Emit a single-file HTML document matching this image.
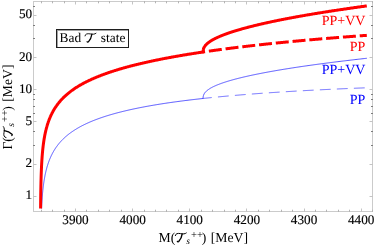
<!DOCTYPE html>
<html><head><meta charset="utf-8"><style>
html,body{margin:0;padding:0;background:#fff;}
body{width:374px;height:245px;overflow:hidden;}
svg{display:block;will-change:transform;text-rendering:geometricPrecision;font-family:"Liberation Serif",serif;}
</style></head><body>
<svg width="374" height="245" viewBox="0 0 374 245">
<rect width="374" height="245" fill="#fff"/>
<defs><clipPath id="c"><rect x="33.4" y="4.0" width="339.0" height="204.4"/></clipPath></defs>
<g clip-path="url(#c)" fill="none" stroke-linejoin="round">
<path d="M203.09,98.47 L203.64,98.41 L204.19,98.35 L204.74,98.29 L205.28,98.23 L205.83,98.17 L206.38,98.12 L206.93,98.06 L207.47,98.00 L208.02,97.94 L208.57,97.89 L209.12,97.83 L209.66,97.77 L210.21,97.72 L210.76,97.66 L211.31,97.60 L211.85,97.55 L212.40,97.49 L212.95,97.44 L213.50,97.38 L214.04,97.33 L214.59,97.27 L215.14,97.22 L215.69,97.16 L216.23,97.11 L216.78,97.06 L217.33,97.00 L217.88,96.95 L218.42,96.90 L218.97,96.85 L219.52,96.79 L220.07,96.74 L220.61,96.69 L221.16,96.64 L221.71,96.58 L222.26,96.53 L222.80,96.48 L223.35,96.43 L223.90,96.38 L224.45,96.33 L224.99,96.28 L225.54,96.23 L226.09,96.18 L226.64,96.13 L227.18,96.08 L227.73,96.03 L228.28,95.98 L228.83,95.93 L229.37,95.88 L229.92,95.83 L230.47,95.79 L231.02,95.74 L231.56,95.69 L232.11,95.64 L232.66,95.59 L233.21,95.55 L233.75,95.50 L234.30,95.45 L234.85,95.40 L235.40,95.36 L235.94,95.31 L236.49,95.26 L237.04,95.22 L237.59,95.17 L238.13,95.13 L238.68,95.08 L239.23,95.03 L239.78,94.99 L240.32,94.94 L240.87,94.90 L241.42,94.85 L241.97,94.81 L242.51,94.76 L243.06,94.72 L243.61,94.68 L244.16,94.63 L244.70,94.59 L245.25,94.54 L245.80,94.50 L246.35,94.46 L246.89,94.41 L247.44,94.37 L247.99,94.33 L248.54,94.29 L249.08,94.24 L249.63,94.20 L250.18,94.16 L250.73,94.12 L251.27,94.07 L251.82,94.03 L252.37,93.99 L252.92,93.95 L253.46,93.91 L254.01,93.87 L254.56,93.83 L255.11,93.78 L255.65,93.74 L256.20,93.70 L256.75,93.66 L257.30,93.62 L257.84,93.58 L258.39,93.54 L258.94,93.50 L259.49,93.46 L260.03,93.42 L260.58,93.38 L261.13,93.34 L261.68,93.30 L262.23,93.27 L262.77,93.23 L263.32,93.19 L263.87,93.15 L264.42,93.11 L264.96,93.07 L265.51,93.03 L266.06,93.00 L266.61,92.96 L267.15,92.92 L267.70,92.88 L268.25,92.85 L268.80,92.81 L269.34,92.77 L269.89,92.73 L270.44,92.70 L270.99,92.66 L271.53,92.62 L272.08,92.59 L272.63,92.55 L273.18,92.51 L273.72,92.48 L274.27,92.44 L274.82,92.41 L275.37,92.37 L275.91,92.33 L276.46,92.30 L277.01,92.26 L277.56,92.23 L278.10,92.19 L278.65,92.16 L279.20,92.12 L279.75,92.09 L280.29,92.05 L280.84,92.02 L281.39,91.98 L281.94,91.95 L282.48,91.91 L283.03,91.88 L283.58,91.85 L284.13,91.81 L284.67,91.78 L285.22,91.74 L285.77,91.71 L286.32,91.68 L286.86,91.64 L287.41,91.61 L287.96,91.58 L288.51,91.54 L289.05,91.51 L289.60,91.48 L290.15,91.45 L290.70,91.41 L291.24,91.38 L291.79,91.35 L292.34,91.32 L292.89,91.28 L293.43,91.25 L293.98,91.22 L294.53,91.19 L295.08,91.16 L295.62,91.12 L296.17,91.09 L296.72,91.06 L297.27,91.03 L297.81,91.00 L298.36,90.97 L298.91,90.94 L299.46,90.91 L300.00,90.88 L300.55,90.84 L301.10,90.81 L301.65,90.78 L302.19,90.75 L302.74,90.72 L303.29,90.69 L303.84,90.66 L304.38,90.63 L304.93,90.60 L305.48,90.57 L306.03,90.54 L306.57,90.51 L307.12,90.48 L307.67,90.45 L308.22,90.43 L308.76,90.40 L309.31,90.37 L309.86,90.34 L310.41,90.31 L310.95,90.28 L311.50,90.25 L312.05,90.22 L312.60,90.19 L313.14,90.17 L313.69,90.14 L314.24,90.11 L314.79,90.08 L315.33,90.05 L315.88,90.02 L316.43,90.00 L316.98,89.97 L317.52,89.94 L318.07,89.91 L318.62,89.89 L319.17,89.86 L319.71,89.83 L320.26,89.80 L320.81,89.78 L321.36,89.75 L321.90,89.72 L322.45,89.70 L323.00,89.67 L323.55,89.64 L324.09,89.62 L324.64,89.59 L325.19,89.56 L325.74,89.54 L326.28,89.51 L326.83,89.48 L327.38,89.46 L327.93,89.43 L328.47,89.41 L329.02,89.38 L329.57,89.35 L330.12,89.33 L330.66,89.30 L331.21,89.28 L331.76,89.25 L332.31,89.23 L332.85,89.20 L333.40,89.17 L333.95,89.15 L334.50,89.12 L335.04,89.10 L335.59,89.07 L336.14,89.05 L336.69,89.02 L337.23,89.00 L337.78,88.98 L338.33,88.95 L338.88,88.93 L339.42,88.90 L339.97,88.88 L340.52,88.85 L341.07,88.83 L341.61,88.81 L342.16,88.78 L342.71,88.76 L343.26,88.73 L343.80,88.71 L344.35,88.69 L344.90,88.66 L345.45,88.64 L345.99,88.62 L346.54,88.59 L347.09,88.57 L347.64,88.55 L348.18,88.52 L348.73,88.50 L349.28,88.48 L349.83,88.45 L350.37,88.43 L350.92,88.41 L351.47,88.38 L352.02,88.36 L352.56,88.34 L353.11,88.32 L353.66,88.29 L354.21,88.27 L354.75,88.25 L355.30,88.23 L355.85,88.20 L356.40,88.18 L356.94,88.16 L357.49,88.14 L358.04,88.12 L358.59,88.09 L359.13,88.07 L359.68,88.05 L360.23,88.03 L360.78,88.01 L361.32,87.99 L361.87,87.97 L362.42,87.94 L362.97,87.92 L363.51,87.90 L364.06,87.88 L364.61,87.86 L365.16,87.84 L365.70,87.82 L366.25,87.80 L366.80,87.77" stroke="#1414ff" stroke-width="0.62" stroke-dasharray="10.8 6.23" stroke-dashoffset="2.1"/>
<path d="M40.42,395.22 L40.42,395.22 L40.42,395.22 L40.42,395.22 L40.42,395.22 L40.42,395.22 L40.42,395.22 L40.42,395.22 L40.42,387.59 L40.42,379.59 L40.42,372.22 L40.42,365.43 L40.42,359.15 L40.42,353.33 L40.42,347.91 L40.42,342.84 L40.42,338.09 L40.42,333.62 L40.42,329.40 L40.43,325.41 L40.43,321.62 L40.43,318.02 L40.43,314.59 L40.43,311.31 L40.43,308.17 L40.44,305.16 L40.44,302.27 L40.44,299.49 L40.44,296.82 L40.45,294.24 L40.45,291.75 L40.46,289.34 L40.46,287.01 L40.46,284.76 L40.47,282.57 L40.47,280.45 L40.48,278.39 L40.48,276.39 L40.49,274.44 L40.49,272.54 L40.50,270.70 L40.51,268.90 L40.51,267.14 L40.52,265.43 L40.53,263.76 L40.54,262.13 L40.54,260.53 L40.55,258.97 L40.56,257.44 L40.57,255.95 L40.58,254.49 L40.59,253.05 L40.60,251.65 L40.61,250.27 L40.62,248.92 L40.63,247.59 L40.65,246.29 L40.66,245.02 L40.67,243.76 L40.69,242.53 L40.70,241.32 L40.71,240.13 L40.73,238.96 L40.74,237.81 L40.76,236.68 L40.78,235.56 L40.79,234.47 L40.81,233.39 L40.83,232.33 L40.85,231.28 L40.87,230.25 L40.88,229.23 L40.90,228.23 L40.93,227.24 L40.95,226.27 L40.97,225.31 L40.99,224.36 L41.01,223.43 L41.04,222.51 L41.06,221.60 L41.09,220.70 L41.11,219.81 L41.14,218.94 L41.16,218.08 L41.19,217.22 L41.22,216.38 L41.25,215.55 L41.28,214.73 L41.31,213.91 L41.34,213.11 L41.37,212.32 L41.40,211.53 L41.44,210.75 L41.47,209.99 L41.50,209.23 L41.54,208.48 L41.57,207.74 L41.61,207.00 L41.65,206.27 L41.69,205.56 L41.73,204.84 L41.77,204.14 L41.81,203.44 L41.85,202.75 L41.89,202.07 L41.93,201.39 L41.98,200.72 L42.02,200.06 L42.07,199.41 L42.11,198.75 L42.16,198.11 L42.21,197.47 L42.26,196.84 L42.31,196.21 L42.36,195.59 L42.41,194.98 L42.46,194.37 L42.51,193.76 L42.57,193.17 L42.62,192.57 L42.68,191.98 L42.74,191.40 L42.79,190.82 L42.85,190.25 L42.91,189.68 L42.97,189.12 L43.04,188.56 L43.10,188.00 L43.16,187.45 L43.23,186.91 L43.29,186.37 L43.36,185.83 L43.43,185.30 L43.50,184.77 L43.57,184.25 L43.64,183.73 L43.71,183.21 L43.78,182.70 L43.86,182.19 L43.93,181.69 L44.01,181.19 L44.09,180.69 L44.16,180.20 L44.24,179.71 L44.33,179.22 L44.41,178.74 L44.49,178.26 L44.58,177.78 L44.66,177.31 L44.75,176.84 L44.83,176.38 L44.92,175.91 L45.01,175.45 L45.11,175.00 L45.20,174.55 L45.29,174.10 L45.39,173.65 L45.48,173.21 L45.58,172.76 L45.68,172.33 L45.78,171.89 L45.88,171.46 L45.98,171.03 L46.09,170.60 L46.19,170.18 L46.30,169.76 L46.41,169.34 L46.51,168.92 L46.62,168.51 L46.74,168.10 L46.85,167.69 L46.96,167.29 L47.08,166.89 L47.20,166.48 L47.31,166.09 L47.43,165.69 L47.55,165.30 L47.68,164.91 L47.80,164.52 L47.93,164.13 L48.05,163.75 L48.18,163.37 L48.31,162.99 L48.44,162.61 L48.57,162.23 L48.71,161.86 L48.84,161.49 L48.98,161.12 L49.12,160.76 L49.26,160.39 L49.40,160.03 L49.54,159.67 L49.68,159.31 L49.83,158.95 L49.98,158.60 L50.12,158.25 L50.27,157.90 L50.43,157.55 L50.58,157.20 L50.73,156.86 L50.89,156.51 L51.05,156.17 L51.21,155.83 L51.37,155.49 L51.53,155.16 L51.70,154.82 L51.86,154.49 L52.03,154.16 L52.20,153.83 L52.37,153.51 L52.54,153.18 L52.72,152.86 L52.89,152.53 L53.07,152.21 L53.25,151.90 L53.43,151.58 L53.61,151.26 L53.79,150.95 L53.98,150.64 L54.17,150.32 L54.36,150.02 L54.55,149.71 L54.74,149.40 L54.94,149.10 L55.13,148.79 L55.33,148.49 L55.53,148.19 L55.73,147.89 L55.93,147.59 L56.14,147.30 L56.35,147.00 L56.55,146.71 L56.77,146.42 L56.98,146.13 L57.19,145.84 L57.41,145.55 L57.63,145.26 L57.85,144.98 L58.07,144.69 L58.29,144.41 L58.52,144.13 L58.74,143.85 L58.97,143.57 L59.20,143.29 L59.44,143.02 L59.67,142.74 L59.91,142.47 L60.15,142.20 L60.39,141.92 L60.63,141.65 L60.87,141.39 L61.12,141.12 L61.37,140.85 L61.62,140.59 L61.87,140.32 L62.13,140.06 L62.38,139.80 L62.64,139.54 L62.90,139.28 L63.16,139.02 L63.43,138.76 L63.69,138.51 L63.96,138.25 L64.23,138.00 L64.51,137.74 L64.78,137.49 L65.06,137.24 L65.34,136.99 L65.62,136.74 L65.90,136.49 L66.19,136.25 L66.47,136.00 L66.76,135.76 L67.05,135.51 L67.35,135.27 L67.64,135.03 L67.94,134.79 L68.24,134.55 L68.55,134.31 L68.85,134.07 L69.16,133.84 L69.47,133.60 L69.78,133.37 L70.09,133.13 L70.41,132.90 L70.72,132.67 L71.04,132.44 L71.37,132.21 L71.69,131.98 L72.02,131.75 L72.35,131.52 L72.68,131.30 L73.01,131.07 L73.35,130.85 L73.69,130.63 L74.03,130.40 L74.37,130.18 L74.72,129.96 L75.06,129.74 L75.41,129.52 L75.77,129.30 L76.12,129.08 L76.48,128.87 L76.84,128.65 L77.20,128.44 L77.56,128.22 L77.93,128.01 L78.30,127.80 L78.67,127.59 L79.04,127.37 L79.42,127.16 L79.80,126.96 L80.18,126.75 L80.56,126.54 L80.95,126.33 L81.34,126.13 L81.73,125.92 L82.12,125.72 L82.52,125.51 L82.92,125.31 L83.32,125.11 L83.72,124.91 L84.13,124.71 L84.54,124.51 L84.95,124.31 L85.36,124.11 L85.78,123.91 L86.20,123.71 L86.62,123.52 L87.04,123.32 L87.47,123.13 L87.90,122.93 L88.33,122.74 L88.76,122.55 L89.20,122.36 L89.64,122.16 L90.08,121.97 L90.53,121.78 L90.97,121.60 L91.42,121.41 L91.88,121.22 L92.33,121.03 L92.79,120.85 L93.25,120.66 L93.71,120.48 L94.18,120.29 L94.65,120.11 L95.12,119.92 L95.59,119.74 L96.07,119.56 L96.55,119.38 L97.03,119.20 L97.52,119.02 L98.01,118.84 L98.50,118.66 L98.99,118.48 L99.49,118.31 L99.99,118.13 L100.49,117.95 L100.99,117.78 L101.50,117.61 L102.01,117.43 L102.52,117.26 L103.04,117.09 L103.56,116.91 L104.08,116.74 L104.61,116.57 L105.13,116.40 L105.66,116.23 L106.20,116.06 L106.73,115.89 L107.27,115.73 L107.82,115.56 L108.36,115.39 L108.91,115.23 L109.46,115.06 L110.01,114.90 L110.57,114.73 L111.13,114.57 L111.69,114.40 L112.26,114.24 L112.83,114.08 L113.40,113.92 L113.97,113.76 L114.55,113.60 L115.13,113.44 L115.71,113.28 L116.30,113.12 L116.89,112.96 L117.48,112.80 L118.08,112.65 L118.68,112.49 L119.28,112.33 L119.89,112.18 L120.49,112.02 L121.11,111.87 L121.72,111.72 L122.34,111.56 L122.96,111.41 L123.58,111.26 L124.21,111.11 L124.84,110.96 L125.47,110.81 L126.11,110.66 L126.75,110.51 L127.39,110.36 L128.04,110.21 L128.69,110.06 L129.34,109.91 L129.99,109.77 L130.65,109.62 L131.31,109.47 L131.98,109.33 L132.65,109.18 L133.32,109.04 L133.99,108.90 L134.67,108.75 L135.35,108.61 L136.04,108.47 L136.73,108.33 L137.42,108.18 L138.11,108.04 L138.81,107.90 L139.51,107.76 L140.21,107.62 L140.92,107.49 L141.63,107.35 L142.35,107.21 L143.07,107.07 L143.79,106.94 L144.51,106.80 L145.24,106.66 L145.97,106.53 L146.71,106.39 L147.44,106.26 L148.19,106.12 L148.93,105.99 L149.68,105.86 L150.43,105.72 L151.19,105.59 L151.94,105.46 L152.71,105.33 L153.47,105.20 L154.24,105.07 L155.01,104.94 L155.79,104.81 L156.57,104.68 L157.35,104.55 L158.14,104.42 L158.93,104.30 L159.72,104.17 L160.52,104.04 L161.32,103.92 L162.12,103.79 L162.93,103.66 L163.74,103.54 L164.56,103.41 L165.38,103.29 L166.20,103.17 L167.02,103.04 L167.85,102.92 L168.69,102.80 L169.52,102.68 L170.36,102.56 L171.21,102.44 L172.06,102.31 L172.91,102.19 L173.76,102.07 L174.62,101.96 L175.48,101.84 L176.35,101.72 L177.22,101.60 L178.09,101.48 L178.97,101.37 L179.85,101.25 L180.73,101.13 L181.62,101.02 L182.51,100.90 L183.41,100.79 L184.31,100.67 L185.21,100.56 L186.12,100.44 L187.03,100.33 L187.94,100.22 L188.86,100.11 L189.78,99.99 L190.71,99.88 L191.64,99.77 L192.57,99.66 L193.51,99.55 L194.45,99.44 L195.39,99.33 L196.34,99.22 L197.30,99.11 L198.25,99.00 L199.21,98.90 L200.18,98.79 L201.15,98.68 L202.12,98.57 L203.09,98.47 L203.09,98.43 L203.09,98.42 L203.09,98.41 L203.09,98.38 L203.09,98.34 L203.09,98.30 L203.09,98.26 L203.09,98.22 L203.09,98.17 L203.10,98.13 L203.10,98.08 L203.10,98.03 L203.10,97.98 L203.10,97.93 L203.10,97.88 L203.10,97.83 L203.10,97.78 L203.11,97.72 L203.11,97.67 L203.11,97.61 L203.11,97.56 L203.12,97.50 L203.12,97.44 L203.12,97.39 L203.13,97.33 L203.13,97.27 L203.14,97.21 L203.14,97.15 L203.15,97.09 L203.16,97.03 L203.16,96.97 L203.17,96.90 L203.18,96.84 L203.19,96.78 L203.19,96.72 L203.20,96.65 L203.21,96.59 L203.22,96.52 L203.24,96.46 L203.25,96.39 L203.26,96.33 L203.27,96.26 L203.28,96.19 L203.30,96.13 L203.31,96.06 L203.33,95.99 L203.34,95.93 L203.36,95.86 L203.38,95.79 L203.40,95.72 L203.42,95.65 L203.44,95.58 L203.46,95.51 L203.48,95.44 L203.50,95.37 L203.52,95.30 L203.55,95.23 L203.57,95.16 L203.60,95.09 L203.62,95.01 L203.65,94.94 L203.68,94.87 L203.71,94.80 L203.74,94.72 L203.77,94.65 L203.80,94.58 L203.83,94.50 L203.87,94.43 L203.90,94.35 L203.94,94.28 L203.98,94.21 L204.02,94.13 L204.06,94.05 L204.10,93.98 L204.14,93.90 L204.18,93.83 L204.22,93.75 L204.27,93.67 L204.32,93.60 L204.36,93.52 L204.41,93.44 L204.46,93.37 L204.51,93.29 L204.57,93.21 L204.62,93.13 L204.68,93.05 L204.73,92.97 L204.79,92.90 L204.85,92.82 L204.91,92.74 L204.97,92.66 L205.04,92.58 L205.10,92.50 L205.17,92.42 L205.23,92.34 L205.30,92.26 L205.37,92.17 L205.45,92.09 L205.52,92.01 L205.59,91.93 L205.67,91.85 L205.75,91.77 L205.83,91.68 L205.91,91.60 L205.99,91.52 L206.08,91.44 L206.16,91.35 L206.25,91.27 L206.34,91.19 L206.43,91.10 L206.52,91.02 L206.62,90.93 L206.71,90.85 L206.81,90.76 L206.91,90.68 L207.01,90.59 L207.12,90.51 L207.22,90.42 L207.33,90.34 L207.44,90.25 L207.55,90.16 L207.66,90.08 L207.77,89.99 L207.89,89.90 L208.01,89.82 L208.13,89.73 L208.25,89.64 L208.37,89.56 L208.50,89.47 L208.63,89.38 L208.76,89.29 L208.89,89.20 L209.02,89.11 L209.16,89.02 L209.29,88.93 L209.43,88.85 L209.58,88.76 L209.72,88.67 L209.87,88.58 L210.01,88.49 L210.17,88.39 L210.32,88.30 L210.47,88.21 L210.63,88.12 L210.79,88.03 L210.95,87.94 L211.11,87.85 L211.28,87.75 L211.45,87.66 L211.62,87.57 L211.79,87.48 L211.97,87.38 L212.14,87.29 L212.32,87.20 L212.51,87.10 L212.69,87.01 L212.88,86.92 L213.07,86.82 L213.26,86.73 L213.45,86.63 L213.65,86.54 L213.85,86.44 L214.05,86.35 L214.25,86.25 L214.46,86.16 L214.67,86.06 L214.88,85.96 L215.10,85.87 L215.31,85.77 L215.53,85.67 L215.76,85.58 L215.98,85.48 L216.21,85.38 L216.44,85.28 L216.67,85.19 L216.91,85.09 L217.14,84.99 L217.38,84.89 L217.63,84.79 L217.87,84.69 L218.12,84.60 L218.38,84.50 L218.63,84.40 L218.89,84.30 L219.15,84.20 L219.41,84.10 L219.68,84.00 L219.95,83.89 L220.22,83.79 L220.49,83.69 L220.77,83.59 L221.05,83.49 L221.33,83.39 L221.62,83.29 L221.91,83.18 L222.20,83.08 L222.50,82.98 L222.80,82.88 L223.10,82.77 L223.40,82.67 L223.71,82.57 L224.02,82.46 L224.34,82.36 L224.65,82.25 L224.97,82.15 L225.30,82.05 L225.62,81.94 L225.95,81.84 L226.29,81.73 L226.62,81.62 L226.96,81.52 L227.30,81.41 L227.65,81.31 L228.00,81.20 L228.35,81.09 L228.71,80.99 L229.07,80.88 L229.43,80.77 L229.79,80.67 L230.16,80.56 L230.54,80.45 L230.91,80.34 L231.29,80.24 L231.67,80.13 L232.06,80.02 L232.45,79.91 L232.84,79.80 L233.24,79.69 L233.64,79.58 L234.04,79.47 L234.45,79.36 L234.86,79.25 L235.28,79.14 L235.69,79.03 L236.11,78.92 L236.54,78.81 L236.97,78.70 L237.40,78.59 L237.84,78.48 L238.28,78.36 L238.72,78.25 L239.17,78.14 L239.62,78.03 L240.07,77.92 L240.53,77.80 L240.99,77.69 L241.46,77.58 L241.93,77.46 L242.40,77.35 L242.88,77.24 L243.36,77.12 L243.85,77.01 L244.34,76.89 L244.83,76.78 L245.33,76.67 L245.83,76.55 L246.33,76.44 L246.84,76.32 L247.35,76.21 L247.87,76.09 L248.39,75.97 L248.92,75.86 L249.44,75.74 L249.98,75.62 L250.51,75.51 L251.05,75.39 L251.60,75.27 L252.15,75.16 L252.70,75.04 L253.26,74.92 L253.82,74.80 L254.39,74.69 L254.96,74.57 L255.53,74.45 L256.11,74.33 L256.69,74.21 L257.28,74.09 L257.87,73.98 L258.46,73.86 L259.06,73.74 L259.67,73.62 L260.28,73.50 L260.89,73.38 L261.51,73.26 L262.13,73.14 L262.75,73.02 L263.38,72.90 L264.02,72.78 L264.66,72.65 L265.30,72.53 L265.95,72.41 L266.60,72.29 L267.26,72.17 L267.92,72.05 L268.59,71.92 L269.26,71.80 L269.93,71.68 L270.61,71.56 L271.30,71.43 L271.98,71.31 L272.68,71.19 L273.38,71.07 L274.08,70.94 L274.79,70.82 L275.50,70.69 L276.22,70.57 L276.94,70.45 L277.66,70.32 L278.39,70.20 L279.13,70.07 L279.87,69.95 L280.62,69.82 L281.37,69.70 L282.12,69.57 L282.88,69.45 L283.65,69.32 L284.42,69.20 L285.19,69.07 L285.97,68.95 L286.75,68.82 L287.54,68.69 L288.34,68.57 L289.14,68.44 L289.94,68.31 L290.75,68.19 L291.56,68.06 L292.38,67.93 L293.21,67.80 L294.04,67.68 L294.87,67.55 L295.71,67.42 L296.55,67.29 L297.40,67.17 L298.26,67.04 L299.12,66.91 L299.98,66.78 L300.85,66.65 L301.73,66.52 L302.61,66.39 L303.50,66.26 L304.39,66.14 L305.28,66.01 L306.19,65.88 L307.09,65.75 L308.00,65.62 L308.92,65.49 L309.85,65.36 L310.77,65.23 L311.71,65.10 L312.65,64.97 L313.59,64.84 L314.54,64.70 L315.50,64.57 L316.46,64.44 L317.42,64.31 L318.39,64.18 L319.37,64.05 L320.35,63.92 L321.34,63.78 L322.34,63.65 L323.34,63.52 L324.34,63.39 L325.35,63.26 L326.37,63.12 L327.39,62.99 L328.42,62.86 L329.45,62.73 L330.49,62.59 L331.53,62.46 L332.58,62.33 L333.64,62.19 L334.70,62.06 L335.76,61.93 L336.84,61.79 L337.92,61.66 L339.00,61.53 L340.09,61.39 L341.19,61.26 L342.29,61.12 L343.40,60.99 L344.51,60.86 L345.63,60.72 L346.75,60.59 L347.89,60.45 L349.02,60.32 L350.17,60.18 L351.31,60.05 L352.47,59.91 L353.63,59.78 L354.80,59.64 L355.97,59.50 L357.15,59.37 L358.33,59.23 L359.53,59.10 L360.72,58.96 L361.93,58.82 L363.14,58.69 L364.35,58.55 L365.57,58.42 L366.80,58.28" stroke="#1414ff" stroke-width="0.72"/>
<path d="M203.09,52.00 L203.64,51.92 L204.19,51.84 L204.74,51.76 L205.28,51.68 L205.83,51.60 L206.38,51.52 L206.93,51.44 L207.47,51.36 L208.02,51.28 L208.57,51.21 L209.12,51.13 L209.66,51.05 L210.21,50.97 L210.76,50.89 L211.31,50.82 L211.85,50.74 L212.40,50.66 L212.95,50.59 L213.50,50.51 L214.04,50.43 L214.59,50.36 L215.14,50.28 L215.69,50.21 L216.23,50.13 L216.78,50.06 L217.33,49.98 L217.88,49.91 L218.42,49.83 L218.97,49.76 L219.52,49.68 L220.07,49.61 L220.61,49.54 L221.16,49.46 L221.71,49.39 L222.26,49.32 L222.80,49.25 L223.35,49.17 L223.90,49.10 L224.45,49.03 L224.99,48.96 L225.54,48.89 L226.09,48.81 L226.64,48.74 L227.18,48.67 L227.73,48.60 L228.28,48.53 L228.83,48.46 L229.37,48.39 L229.92,48.32 L230.47,48.25 L231.02,48.18 L231.56,48.11 L232.11,48.04 L232.66,47.98 L233.21,47.91 L233.75,47.84 L234.30,47.77 L234.85,47.70 L235.40,47.63 L235.94,47.57 L236.49,47.50 L237.04,47.43 L237.59,47.36 L238.13,47.30 L238.68,47.23 L239.23,47.16 L239.78,47.10 L240.32,47.03 L240.87,46.97 L241.42,46.90 L241.97,46.83 L242.51,46.77 L243.06,46.70 L243.61,46.64 L244.16,46.57 L244.70,46.51 L245.25,46.44 L245.80,46.38 L246.35,46.32 L246.89,46.25 L247.44,46.19 L247.99,46.12 L248.54,46.06 L249.08,46.00 L249.63,45.93 L250.18,45.87 L250.73,45.81 L251.27,45.75 L251.82,45.68 L252.37,45.62 L252.92,45.56 L253.46,45.50 L254.01,45.43 L254.56,45.37 L255.11,45.31 L255.65,45.25 L256.20,45.19 L256.75,45.13 L257.30,45.07 L257.84,45.01 L258.39,44.94 L258.94,44.88 L259.49,44.82 L260.03,44.76 L260.58,44.70 L261.13,44.64 L261.68,44.58 L262.23,44.52 L262.77,44.47 L263.32,44.41 L263.87,44.35 L264.42,44.29 L264.96,44.23 L265.51,44.17 L266.06,44.11 L266.61,44.05 L267.15,44.00 L267.70,43.94 L268.25,43.88 L268.80,43.82 L269.34,43.76 L269.89,43.71 L270.44,43.65 L270.99,43.59 L271.53,43.54 L272.08,43.48 L272.63,43.42 L273.18,43.36 L273.72,43.31 L274.27,43.25 L274.82,43.20 L275.37,43.14 L275.91,43.08 L276.46,43.03 L277.01,42.97 L277.56,42.92 L278.10,42.86 L278.65,42.81 L279.20,42.75 L279.75,42.70 L280.29,42.64 L280.84,42.59 L281.39,42.53 L281.94,42.48 L282.48,42.42 L283.03,42.37 L283.58,42.31 L284.13,42.26 L284.67,42.21 L285.22,42.15 L285.77,42.10 L286.32,42.05 L286.86,41.99 L287.41,41.94 L287.96,41.89 L288.51,41.83 L289.05,41.78 L289.60,41.73 L290.15,41.67 L290.70,41.62 L291.24,41.57 L291.79,41.52 L292.34,41.47 L292.89,41.41 L293.43,41.36 L293.98,41.31 L294.53,41.26 L295.08,41.21 L295.62,41.16 L296.17,41.10 L296.72,41.05 L297.27,41.00 L297.81,40.95 L298.36,40.90 L298.91,40.85 L299.46,40.80 L300.00,40.75 L300.55,40.70 L301.10,40.65 L301.65,40.60 L302.19,40.55 L302.74,40.50 L303.29,40.45 L303.84,40.40 L304.38,40.35 L304.93,40.30 L305.48,40.25 L306.03,40.20 L306.57,40.15 L307.12,40.10 L307.67,40.05 L308.22,40.00 L308.76,39.96 L309.31,39.91 L309.86,39.86 L310.41,39.81 L310.95,39.76 L311.50,39.71 L312.05,39.67 L312.60,39.62 L313.14,39.57 L313.69,39.52 L314.24,39.48 L314.79,39.43 L315.33,39.38 L315.88,39.33 L316.43,39.29 L316.98,39.24 L317.52,39.19 L318.07,39.14 L318.62,39.10 L319.17,39.05 L319.71,39.00 L320.26,38.96 L320.81,38.91 L321.36,38.87 L321.90,38.82 L322.45,38.77 L323.00,38.73 L323.55,38.68 L324.09,38.64 L324.64,38.59 L325.19,38.54 L325.74,38.50 L326.28,38.45 L326.83,38.41 L327.38,38.36 L327.93,38.32 L328.47,38.27 L329.02,38.23 L329.57,38.18 L330.12,38.14 L330.66,38.09 L331.21,38.05 L331.76,38.00 L332.31,37.96 L332.85,37.92 L333.40,37.87 L333.95,37.83 L334.50,37.78 L335.04,37.74 L335.59,37.70 L336.14,37.65 L336.69,37.61 L337.23,37.57 L337.78,37.52 L338.33,37.48 L338.88,37.44 L339.42,37.39 L339.97,37.35 L340.52,37.31 L341.07,37.26 L341.61,37.22 L342.16,37.18 L342.71,37.14 L343.26,37.09 L343.80,37.05 L344.35,37.01 L344.90,36.97 L345.45,36.92 L345.99,36.88 L346.54,36.84 L347.09,36.80 L347.64,36.76 L348.18,36.71 L348.73,36.67 L349.28,36.63 L349.83,36.59 L350.37,36.55 L350.92,36.51 L351.47,36.47 L352.02,36.42 L352.56,36.38 L353.11,36.34 L353.66,36.30 L354.21,36.26 L354.75,36.22 L355.30,36.18 L355.85,36.14 L356.40,36.10 L356.94,36.06 L357.49,36.02 L358.04,35.98 L358.59,35.94 L359.13,35.90 L359.68,35.86 L360.23,35.82 L360.78,35.78 L361.32,35.74 L361.87,35.70 L362.42,35.66 L362.97,35.62 L363.51,35.58 L364.06,35.54 L364.61,35.50 L365.16,35.46 L365.70,35.42 L366.25,35.38 L366.80,35.34" stroke="#f00" stroke-width="3.0" stroke-dasharray="13 3.85" stroke-dashoffset="11.0"/>
<path d="M40.42,344.07 L40.42,344.07 L40.42,344.07 L40.42,344.07 L40.42,344.07 L40.42,344.07 L40.42,344.07 L40.42,344.07 L40.42,336.89 L40.42,329.35 L40.42,322.41 L40.42,316.00 L40.42,310.07 L40.42,304.56 L40.42,299.44 L40.42,294.64 L40.42,290.14 L40.42,285.91 L40.42,281.91 L40.43,278.12 L40.43,274.53 L40.43,271.11 L40.43,267.84 L40.43,264.73 L40.43,261.74 L40.44,258.88 L40.44,256.13 L40.44,253.49 L40.44,250.94 L40.45,248.48 L40.45,246.11 L40.46,243.82 L40.46,241.60 L40.46,239.45 L40.47,237.36 L40.47,235.34 L40.48,233.37 L40.48,231.46 L40.49,229.60 L40.49,227.79 L40.50,226.02 L40.51,224.31 L40.51,222.63 L40.52,220.99 L40.53,219.39 L40.54,217.83 L40.54,216.30 L40.55,214.81 L40.56,213.35 L40.57,211.91 L40.58,210.51 L40.59,209.14 L40.60,207.79 L40.61,206.47 L40.62,205.18 L40.63,203.91 L40.65,202.66 L40.66,201.43 L40.67,200.23 L40.69,199.05 L40.70,197.89 L40.71,196.74 L40.73,195.62 L40.74,194.52 L40.76,193.43 L40.78,192.36 L40.79,191.30 L40.81,190.27 L40.83,189.25 L40.85,188.24 L40.87,187.25 L40.88,186.27 L40.90,185.31 L40.93,184.36 L40.95,183.42 L40.97,182.50 L40.99,181.58 L41.01,180.69 L41.04,179.80 L41.06,178.92 L41.09,178.06 L41.11,177.20 L41.14,176.36 L41.16,175.53 L41.19,174.71 L41.22,173.89 L41.25,173.09 L41.28,172.30 L41.31,171.51 L41.34,170.74 L41.37,169.97 L41.40,169.21 L41.44,168.46 L41.47,167.72 L41.50,166.99 L41.54,166.26 L41.57,165.55 L41.61,164.84 L41.65,164.14 L41.69,163.44 L41.73,162.75 L41.77,162.07 L41.81,161.40 L41.85,160.73 L41.89,160.07 L41.93,159.41 L41.98,158.77 L42.02,158.12 L42.07,157.49 L42.11,156.86 L42.16,156.23 L42.21,155.62 L42.26,155.00 L42.31,154.40 L42.36,153.79 L42.41,153.20 L42.46,152.61 L42.51,152.02 L42.57,151.44 L42.62,150.86 L42.68,150.29 L42.74,149.73 L42.79,149.16 L42.85,148.61 L42.91,148.06 L42.97,147.51 L43.04,146.96 L43.10,146.43 L43.16,145.89 L43.23,145.36 L43.29,144.83 L43.36,144.31 L43.43,143.79 L43.50,143.28 L43.57,142.77 L43.64,142.26 L43.71,141.76 L43.78,141.26 L43.86,140.76 L43.93,140.27 L44.01,139.78 L44.09,139.30 L44.16,138.82 L44.24,138.34 L44.33,137.87 L44.41,137.40 L44.49,136.93 L44.58,136.46 L44.66,136.00 L44.75,135.54 L44.83,135.09 L44.92,134.64 L45.01,134.19 L45.11,133.74 L45.20,133.30 L45.29,132.86 L45.39,132.42 L45.48,131.99 L45.58,131.55 L45.68,131.12 L45.78,130.70 L45.88,130.27 L45.98,129.85 L46.09,129.44 L46.19,129.02 L46.30,128.61 L46.41,128.19 L46.51,127.79 L46.62,127.38 L46.74,126.98 L46.85,126.58 L46.96,126.18 L47.08,125.78 L47.20,125.39 L47.31,125.00 L47.43,124.61 L47.55,124.22 L47.68,123.83 L47.80,123.45 L47.93,123.07 L48.05,122.69 L48.18,122.31 L48.31,121.94 L48.44,121.57 L48.57,121.20 L48.71,120.83 L48.84,120.46 L48.98,120.10 L49.12,119.73 L49.26,119.37 L49.40,119.02 L49.54,118.66 L49.68,118.30 L49.83,117.95 L49.98,117.60 L50.12,117.25 L50.27,116.90 L50.43,116.56 L50.58,116.21 L50.73,115.87 L50.89,115.53 L51.05,115.19 L51.21,114.85 L51.37,114.52 L51.53,114.18 L51.70,113.85 L51.86,113.52 L52.03,113.19 L52.20,112.86 L52.37,112.53 L52.54,112.21 L52.72,111.89 L52.89,111.57 L53.07,111.24 L53.25,110.93 L53.43,110.61 L53.61,110.29 L53.79,109.98 L53.98,109.67 L54.17,109.35 L54.36,109.04 L54.55,108.74 L54.74,108.43 L54.94,108.12 L55.13,107.82 L55.33,107.51 L55.53,107.21 L55.73,106.91 L55.93,106.61 L56.14,106.31 L56.35,106.02 L56.55,105.72 L56.77,105.43 L56.98,105.13 L57.19,104.84 L57.41,104.55 L57.63,104.26 L57.85,103.97 L58.07,103.69 L58.29,103.40 L58.52,103.12 L58.74,102.83 L58.97,102.55 L59.20,102.27 L59.44,101.99 L59.67,101.71 L59.91,101.43 L60.15,101.16 L60.39,100.88 L60.63,100.61 L60.87,100.33 L61.12,100.06 L61.37,99.79 L61.62,99.52 L61.87,99.25 L62.13,98.98 L62.38,98.71 L62.64,98.45 L62.90,98.18 L63.16,97.92 L63.43,97.65 L63.69,97.39 L63.96,97.13 L64.23,96.87 L64.51,96.61 L64.78,96.35 L65.06,96.09 L65.34,95.84 L65.62,95.58 L65.90,95.33 L66.19,95.07 L66.47,94.82 L66.76,94.57 L67.05,94.32 L67.35,94.07 L67.64,93.82 L67.94,93.57 L68.24,93.32 L68.55,93.07 L68.85,92.83 L69.16,92.58 L69.47,92.34 L69.78,92.09 L70.09,91.85 L70.41,91.61 L70.72,91.37 L71.04,91.13 L71.37,90.89 L71.69,90.65 L72.02,90.41 L72.35,90.17 L72.68,89.94 L73.01,89.70 L73.35,89.47 L73.69,89.23 L74.03,89.00 L74.37,88.77 L74.72,88.53 L75.06,88.30 L75.41,88.07 L75.77,87.84 L76.12,87.61 L76.48,87.38 L76.84,87.16 L77.20,86.93 L77.56,86.70 L77.93,86.48 L78.30,86.25 L78.67,86.03 L79.04,85.81 L79.42,85.58 L79.80,85.36 L80.18,85.14 L80.56,84.92 L80.95,84.70 L81.34,84.48 L81.73,84.26 L82.12,84.04 L82.52,83.82 L82.92,83.61 L83.32,83.39 L83.72,83.17 L84.13,82.96 L84.54,82.75 L84.95,82.53 L85.36,82.32 L85.78,82.11 L86.20,81.89 L86.62,81.68 L87.04,81.47 L87.47,81.26 L87.90,81.05 L88.33,80.84 L88.76,80.63 L89.20,80.43 L89.64,80.22 L90.08,80.01 L90.53,79.81 L90.97,79.60 L91.42,79.39 L91.88,79.19 L92.33,78.99 L92.79,78.78 L93.25,78.58 L93.71,78.38 L94.18,78.18 L94.65,77.97 L95.12,77.77 L95.59,77.57 L96.07,77.37 L96.55,77.17 L97.03,76.98 L97.52,76.78 L98.01,76.58 L98.50,76.38 L98.99,76.19 L99.49,75.99 L99.99,75.79 L100.49,75.60 L100.99,75.40 L101.50,75.21 L102.01,75.02 L102.52,74.82 L103.04,74.63 L103.56,74.44 L104.08,74.25 L104.61,74.05 L105.13,73.86 L105.66,73.67 L106.20,73.48 L106.73,73.29 L107.27,73.11 L107.82,72.92 L108.36,72.73 L108.91,72.54 L109.46,72.35 L110.01,72.17 L110.57,71.98 L111.13,71.79 L111.69,71.61 L112.26,71.42 L112.83,71.24 L113.40,71.06 L113.97,70.87 L114.55,70.69 L115.13,70.51 L115.71,70.32 L116.30,70.14 L116.89,69.96 L117.48,69.78 L118.08,69.60 L118.68,69.42 L119.28,69.24 L119.89,69.06 L120.49,68.88 L121.11,68.70 L121.72,68.52 L122.34,68.34 L122.96,68.17 L123.58,67.99 L124.21,67.81 L124.84,67.64 L125.47,67.46 L126.11,67.28 L126.75,67.11 L127.39,66.93 L128.04,66.76 L128.69,66.59 L129.34,66.41 L129.99,66.24 L130.65,66.07 L131.31,65.89 L131.98,65.72 L132.65,65.55 L133.32,65.38 L133.99,65.21 L134.67,65.04 L135.35,64.87 L136.04,64.70 L136.73,64.53 L137.42,64.36 L138.11,64.19 L138.81,64.02 L139.51,63.85 L140.21,63.68 L140.92,63.52 L141.63,63.35 L142.35,63.18 L143.07,63.02 L143.79,62.85 L144.51,62.68 L145.24,62.52 L145.97,62.35 L146.71,62.19 L147.44,62.03 L148.19,61.86 L148.93,61.70 L149.68,61.53 L150.43,61.37 L151.19,61.21 L151.94,61.05 L152.71,60.88 L153.47,60.72 L154.24,60.56 L155.01,60.40 L155.79,60.24 L156.57,60.08 L157.35,59.92 L158.14,59.76 L158.93,59.60 L159.72,59.44 L160.52,59.28 L161.32,59.12 L162.12,58.96 L162.93,58.81 L163.74,58.65 L164.56,58.49 L165.38,58.33 L166.20,58.18 L167.02,58.02 L167.85,57.86 L168.69,57.71 L169.52,57.55 L170.36,57.40 L171.21,57.24 L172.06,57.09 L172.91,56.93 L173.76,56.78 L174.62,56.63 L175.48,56.47 L176.35,56.32 L177.22,56.17 L178.09,56.01 L178.97,55.86 L179.85,55.71 L180.73,55.56 L181.62,55.41 L182.51,55.26 L183.41,55.10 L184.31,54.95 L185.21,54.80 L186.12,54.65 L187.03,54.50 L187.94,54.35 L188.86,54.21 L189.78,54.06 L190.71,53.91 L191.64,53.76 L192.57,53.61 L193.51,53.46 L194.45,53.32 L195.39,53.17 L196.34,53.02 L197.30,52.88 L198.25,52.73 L199.21,52.58 L200.18,52.44 L201.15,52.29 L202.12,52.15 L203.09,52.00 L203.09,51.97 L203.09,51.97 L203.09,51.95 L203.09,51.92 L203.09,51.89 L203.09,51.85 L203.09,51.81 L203.09,51.77 L203.09,51.73 L203.10,51.69 L203.10,51.64 L203.10,51.59 L203.10,51.55 L203.10,51.50 L203.10,51.45 L203.10,51.40 L203.10,51.34 L203.11,51.29 L203.11,51.24 L203.11,51.18 L203.11,51.13 L203.12,51.07 L203.12,51.01 L203.12,50.96 L203.13,50.90 L203.13,50.84 L203.14,50.78 L203.14,50.72 L203.15,50.66 L203.16,50.60 L203.16,50.53 L203.17,50.47 L203.18,50.41 L203.19,50.34 L203.19,50.28 L203.20,50.22 L203.21,50.15 L203.22,50.08 L203.24,50.02 L203.25,49.95 L203.26,49.88 L203.27,49.82 L203.28,49.75 L203.30,49.68 L203.31,49.61 L203.33,49.54 L203.34,49.47 L203.36,49.40 L203.38,49.33 L203.40,49.26 L203.42,49.19 L203.44,49.11 L203.46,49.04 L203.48,48.97 L203.50,48.90 L203.52,48.82 L203.55,48.75 L203.57,48.67 L203.60,48.60 L203.62,48.52 L203.65,48.45 L203.68,48.37 L203.71,48.30 L203.74,48.22 L203.77,48.14 L203.80,48.07 L203.83,47.99 L203.87,47.91 L203.90,47.83 L203.94,47.75 L203.98,47.68 L204.02,47.60 L204.06,47.52 L204.10,47.44 L204.14,47.36 L204.18,47.28 L204.22,47.19 L204.27,47.11 L204.32,47.03 L204.36,46.95 L204.41,46.87 L204.46,46.79 L204.51,46.70 L204.57,46.62 L204.62,46.54 L204.68,46.45 L204.73,46.37 L204.79,46.28 L204.85,46.20 L204.91,46.11 L204.97,46.03 L205.04,45.94 L205.10,45.86 L205.17,45.77 L205.23,45.68 L205.30,45.60 L205.37,45.51 L205.45,45.42 L205.52,45.34 L205.59,45.25 L205.67,45.16 L205.75,45.07 L205.83,44.98 L205.91,44.89 L205.99,44.80 L206.08,44.71 L206.16,44.62 L206.25,44.53 L206.34,44.44 L206.43,44.35 L206.52,44.26 L206.62,44.17 L206.71,44.08 L206.81,43.98 L206.91,43.89 L207.01,43.80 L207.12,43.71 L207.22,43.61 L207.33,43.52 L207.44,43.42 L207.55,43.33 L207.66,43.24 L207.77,43.14 L207.89,43.05 L208.01,42.95 L208.13,42.85 L208.25,42.76 L208.37,42.66 L208.50,42.56 L208.63,42.47 L208.76,42.37 L208.89,42.27 L209.02,42.18 L209.16,42.08 L209.29,41.98 L209.43,41.88 L209.58,41.78 L209.72,41.68 L209.87,41.58 L210.01,41.48 L210.17,41.38 L210.32,41.28 L210.47,41.18 L210.63,41.08 L210.79,40.98 L210.95,40.88 L211.11,40.77 L211.28,40.67 L211.45,40.57 L211.62,40.47 L211.79,40.36 L211.97,40.26 L212.14,40.16 L212.32,40.05 L212.51,39.95 L212.69,39.84 L212.88,39.74 L213.07,39.63 L213.26,39.53 L213.45,39.42 L213.65,39.31 L213.85,39.21 L214.05,39.10 L214.25,38.99 L214.46,38.89 L214.67,38.78 L214.88,38.67 L215.10,38.56 L215.31,38.45 L215.53,38.35 L215.76,38.24 L215.98,38.13 L216.21,38.02 L216.44,37.91 L216.67,37.80 L216.91,37.69 L217.14,37.57 L217.38,37.46 L217.63,37.35 L217.87,37.24 L218.12,37.13 L218.38,37.01 L218.63,36.90 L218.89,36.79 L219.15,36.68 L219.41,36.56 L219.68,36.45 L219.95,36.33 L220.22,36.22 L220.49,36.10 L220.77,35.99 L221.05,35.87 L221.33,35.76 L221.62,35.64 L221.91,35.52 L222.20,35.41 L222.50,35.29 L222.80,35.17 L223.10,35.06 L223.40,34.94 L223.71,34.82 L224.02,34.70 L224.34,34.58 L224.65,34.46 L224.97,34.34 L225.30,34.22 L225.62,34.10 L225.95,33.98 L226.29,33.86 L226.62,33.74 L226.96,33.62 L227.30,33.50 L227.65,33.38 L228.00,33.25 L228.35,33.13 L228.71,33.01 L229.07,32.89 L229.43,32.76 L229.79,32.64 L230.16,32.51 L230.54,32.39 L230.91,32.27 L231.29,32.14 L231.67,32.02 L232.06,31.89 L232.45,31.76 L232.84,31.64 L233.24,31.51 L233.64,31.38 L234.04,31.26 L234.45,31.13 L234.86,31.00 L235.28,30.87 L235.69,30.75 L236.11,30.62 L236.54,30.49 L236.97,30.36 L237.40,30.23 L237.84,30.10 L238.28,29.97 L238.72,29.84 L239.17,29.71 L239.62,29.58 L240.07,29.45 L240.53,29.32 L240.99,29.19 L241.46,29.05 L241.93,28.92 L242.40,28.79 L242.88,28.66 L243.36,28.52 L243.85,28.39 L244.34,28.26 L244.83,28.12 L245.33,27.99 L245.83,27.85 L246.33,27.72 L246.84,27.58 L247.35,27.45 L247.87,27.31 L248.39,27.18 L248.92,27.04 L249.44,26.90 L249.98,26.77 L250.51,26.63 L251.05,26.49 L251.60,26.35 L252.15,26.22 L252.70,26.08 L253.26,25.94 L253.82,25.80 L254.39,25.66 L254.96,25.52 L255.53,25.38 L256.11,25.24 L256.69,25.10 L257.28,24.96 L257.87,24.82 L258.46,24.68 L259.06,24.54 L259.67,24.40 L260.28,24.26 L260.89,24.11 L261.51,23.97 L262.13,23.83 L262.75,23.69 L263.38,23.54 L264.02,23.40 L264.66,23.26 L265.30,23.11 L265.95,22.97 L266.60,22.82 L267.26,22.68 L267.92,22.54 L268.59,22.39 L269.26,22.24 L269.93,22.10 L270.61,21.95 L271.30,21.81 L271.98,21.66 L272.68,21.51 L273.38,21.37 L274.08,21.22 L274.79,21.07 L275.50,20.93 L276.22,20.78 L276.94,20.63 L277.66,20.48 L278.39,20.33 L279.13,20.18 L279.87,20.03 L280.62,19.89 L281.37,19.74 L282.12,19.59 L282.88,19.44 L283.65,19.29 L284.42,19.14 L285.19,18.98 L285.97,18.83 L286.75,18.68 L287.54,18.53 L288.34,18.38 L289.14,18.23 L289.94,18.08 L290.75,17.92 L291.56,17.77 L292.38,17.62 L293.21,17.46 L294.04,17.31 L294.87,17.16 L295.71,17.00 L296.55,16.85 L297.40,16.70 L298.26,16.54 L299.12,16.39 L299.98,16.23 L300.85,16.08 L301.73,15.92 L302.61,15.77 L303.50,15.61 L304.39,15.46 L305.28,15.30 L306.19,15.14 L307.09,14.99 L308.00,14.83 L308.92,14.67 L309.85,14.52 L310.77,14.36 L311.71,14.20 L312.65,14.05 L313.59,13.89 L314.54,13.73 L315.50,13.57 L316.46,13.41 L317.42,13.25 L318.39,13.10 L319.37,12.94 L320.35,12.78 L321.34,12.62 L322.34,12.46 L323.34,12.30 L324.34,12.14 L325.35,11.98 L326.37,11.82 L327.39,11.66 L328.42,11.50 L329.45,11.34 L330.49,11.18 L331.53,11.02 L332.58,10.85 L333.64,10.69 L334.70,10.53 L335.76,10.37 L336.84,10.21 L337.92,10.05 L339.00,9.88 L340.09,9.72 L341.19,9.56 L342.29,9.40 L343.40,9.23 L344.51,9.07 L345.63,8.91 L346.75,8.74 L347.89,8.58 L349.02,8.42 L350.17,8.25 L351.31,8.09 L352.47,7.92 L353.63,7.76 L354.80,7.60 L355.97,7.43 L357.15,7.27 L358.33,7.10 L359.53,6.94 L360.72,6.77 L361.93,6.61 L363.14,6.44 L364.35,6.27 L365.57,6.11 L366.80,5.94" stroke="#f00" stroke-width="3.0"/>
</g>
<rect x="33.5" y="1.5" width="339.0" height="210.0" fill="none" stroke="#cbcbcb" stroke-width="1"/>
<path d="M75.5,212.0 v-3.5 M75.5,1.0 v3.5 M132.5,212.0 v-3.5 M132.5,1.0 v3.5 M189.5,212.0 v-3.5 M189.5,1.0 v3.5 M246.5,212.0 v-3.5 M246.5,1.0 v3.5 M304.5,212.0 v-3.5 M304.5,1.0 v3.5 M361.5,212.0 v-3.5 M361.5,1.0 v3.5 M33.0,196.5 h3.5 M373.0,196.5 h-3.5 M33.0,164.5 h3.5 M373.0,164.5 h-3.5 M33.0,121.5 h3.5 M373.0,121.5 h-3.5 M33.0,89.5 h3.5 M373.0,89.5 h-3.5 M33.0,57.5 h3.5 M373.0,57.5 h-3.5 M33.0,15.5 h3.5 M373.0,15.5 h-3.5" stroke="#c4c4c4" stroke-width="1" fill="none"/>
<path d="M41.5,212.0 v-2.3 M41.5,1.0 v2.3 M52.5,212.0 v-2.3 M52.5,1.0 v2.3 M64.5,212.0 v-2.3 M64.5,1.0 v2.3 M86.5,212.0 v-2.3 M86.5,1.0 v2.3 M98.5,212.0 v-2.3 M98.5,1.0 v2.3 M109.5,212.0 v-2.3 M109.5,1.0 v2.3 M121.5,212.0 v-2.3 M121.5,1.0 v2.3 M144.5,212.0 v-2.3 M144.5,1.0 v2.3 M155.5,212.0 v-2.3 M155.5,1.0 v2.3 M166.5,212.0 v-2.3 M166.5,1.0 v2.3 M178.5,212.0 v-2.3 M178.5,1.0 v2.3 M201.5,212.0 v-2.3 M201.5,1.0 v2.3 M212.5,212.0 v-2.3 M212.5,1.0 v2.3 M224.5,212.0 v-2.3 M224.5,1.0 v2.3 M235.5,212.0 v-2.3 M235.5,1.0 v2.3 M258.5,212.0 v-2.3 M258.5,1.0 v2.3 M269.5,212.0 v-2.3 M269.5,1.0 v2.3 M281.5,212.0 v-2.3 M281.5,1.0 v2.3 M292.5,212.0 v-2.3 M292.5,1.0 v2.3 M315.5,212.0 v-2.3 M315.5,1.0 v2.3 M326.5,212.0 v-2.3 M326.5,1.0 v2.3 M338.5,212.0 v-2.3 M338.5,1.0 v2.3 M349.5,212.0 v-2.3 M349.5,1.0 v2.3 M372.5,212.0 v-2.3 M372.5,1.0 v2.3" stroke="#b4b4b4" stroke-width="1" fill="none"/>
<path d="M33.0,145.5 h2.0 M373.0,145.5 h-2.0 M33.0,131.5 h2.0 M373.0,131.5 h-2.0 M33.0,113.5 h2.0 M373.0,113.5 h-2.0 M33.0,106.5 h2.0 M373.0,106.5 h-2.0 M33.0,99.5 h2.0 M373.0,99.5 h-2.0 M33.0,94.5 h2.0 M373.0,94.5 h-2.0 M33.0,38.5 h2.0 M373.0,38.5 h-2.0 M33.0,25.5 h2.0 M373.0,25.5 h-2.0 M33.0,6.5 h2.0 M373.0,6.5 h-2.0" stroke="#7c7c7c" stroke-width="1" fill="none"/>
<g fill="#000" stroke="#000" stroke-width="0.15"><text transform="translate(75.50,223.50) scale(1.0,1)" font-size="13.2" text-anchor="middle" >3900</text><text transform="translate(132.64,223.50) scale(1.0,1)" font-size="13.2" text-anchor="middle" >4000</text><text transform="translate(189.78,223.50) scale(1.0,1)" font-size="13.2" text-anchor="middle" >4100</text><text transform="translate(246.92,223.50) scale(1.0,1)" font-size="13.2" text-anchor="middle" >4200</text><text transform="translate(304.06,223.50) scale(1.0,1)" font-size="13.2" text-anchor="middle" >4300</text><text transform="translate(361.20,223.50) scale(1.0,1)" font-size="13.2" text-anchor="middle" >4400</text><text transform="translate(32.20,199.20) scale(1.0,1)" font-size="13.2" text-anchor="end" >1</text><text transform="translate(32.20,167.14) scale(1.0,1)" font-size="13.2" text-anchor="end" >2</text><text transform="translate(32.20,124.76) scale(1.0,1)" font-size="13.2" text-anchor="end" >5</text><text transform="translate(32.20,92.70) scale(1.0,1)" font-size="13.2" text-anchor="end" >10</text><text transform="translate(32.20,60.64) scale(1.0,1)" font-size="13.2" text-anchor="end" >20</text><text transform="translate(32.20,18.26) scale(1.0,1)" font-size="13.2" text-anchor="end" >50</text></g>
<rect x="56" y="29" width="73" height="19" fill="#1e1e1e"/><rect x="57" y="30" width="71" height="17" fill="#a4a4a4"/><rect x="58" y="31" width="70" height="16" fill="#fff"/>
<g font-size="13.4" fill="#000"><text x="59.6" y="41.95">Bad</text><text x="100.8" y="41.95">state</text></g>
<g transform="translate(84.9,42.2) scale(1.0)" fill="none" stroke="#000" stroke-linecap="round"><path d="M0.1,-6.3 C0.3,-8.4 2.6,-8.8 5.2,-8.3 C7.8,-7.8 9.8,-7.8 11.1,-8.9" stroke-width="0.90"/><path d="M7.0,-8 C6.6,-5.2 5.4,-2.3 3.5,-0.3 C3.1,0.1 2.5,0.0 2.2,-0.5" stroke-width="1.25"/></g>
<g font-size="14" text-anchor="end"><text x="365.4" y="24.700000000000003" fill="#f00">PP+VV</text><text x="365.4" y="50.800000000000004" fill="#f00">PP</text>
<text x="365.4" y="74.19999999999999" fill="#00f">PP+VV</text><text x="365.4" y="104.0" fill="#00f">PP</text></g>
<g font-size="13.7" fill="#000"><text x="158.5" y="241.8">M(</text><g transform="translate(175.2,241.9) scale(1.0)" fill="none" stroke="#000" stroke-linecap="round"><path d="M0.1,-6.3 C0.3,-8.4 2.6,-8.8 5.2,-8.3 C7.8,-7.8 9.8,-7.8 11.1,-8.9" stroke-width="0.99"/><path d="M7.0,-8 C6.6,-5.2 5.4,-2.3 3.5,-0.3 C3.1,0.1 2.5,0.0 2.2,-0.5" stroke-width="1.38"/></g><text x="186.2" y="243.8" font-size="9.5" font-style="italic">s</text><text x="191.0" y="237.6" font-size="10.6">++</text><text x="201.8" y="241.8">)</text><text x="210.7" y="241.8">[MeV]</text></g>
<g transform="translate(12.2,149.6) rotate(-90)" font-size="13.7" fill="#000"><text x="0" y="0">Γ(</text><g transform="translate(11.9,0.1) scale(1.0)" fill="none" stroke="#000" stroke-linecap="round"><path d="M0.1,-6.3 C0.3,-8.4 2.6,-8.8 5.2,-8.3 C7.8,-7.8 9.8,-7.8 11.1,-8.9" stroke-width="0.95"/><path d="M7.0,-8 C6.6,-5.2 5.4,-2.3 3.5,-0.3 C3.1,0.1 2.5,0.0 2.2,-0.5" stroke-width="1.31"/></g><text x="22.8" y="2" font-size="9.5" font-style="italic">s</text><text x="27.7" y="-4.2" font-size="10.6">++</text><text x="38.8" y="0">)</text><text x="47.8" y="0">[MeV]</text></g>
</svg></body></html>
